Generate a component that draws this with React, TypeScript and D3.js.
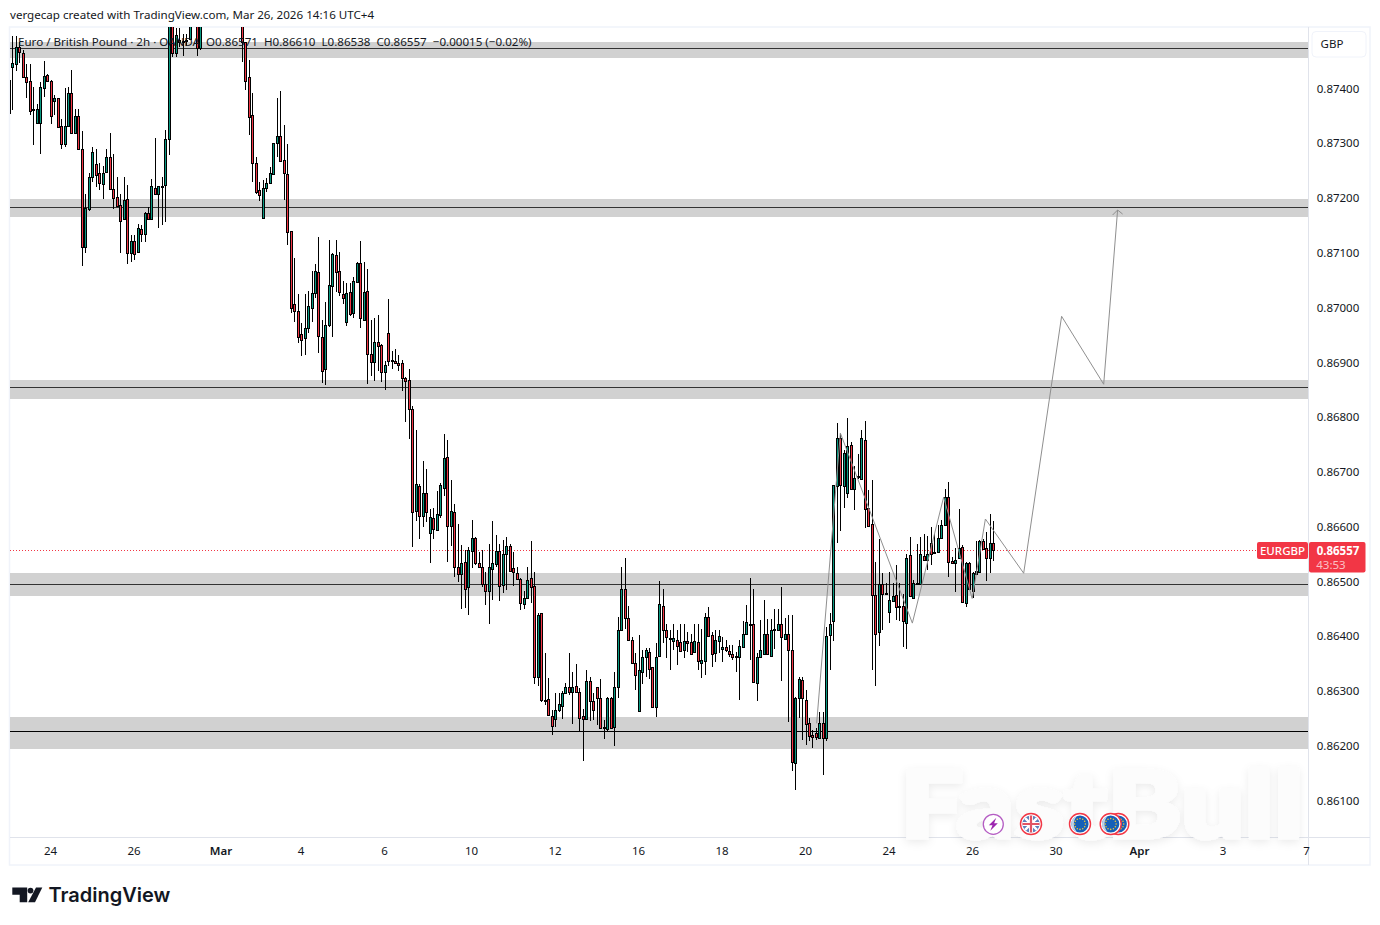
import * as d3 from 'd3';

// prices are in 1e-5 GBP, one entry per 2h bar
const opens = [87355,
  87439,87445,87476,87465,87421,87413,87363,87337,87337,87400,
  87425,87413,87377,87382,87332,87299,87331,87392,87318,87350,
  87290,87111,87179,87239,87262,87245,87226,87248,87275,87217,
  87202,87187,87161,87199,87100,87121,87102,87144,87135,87173,
  87161,87219,87208,87221,87223,87307,87540,87465,87488,87485,
  87486,87490,87535,87570,87473,87560,87600,87625,87610,87595,
  87610,87630,87600,87575,87590,87560,87530,87484,87420,87352,
  87263,87214,87164,87219,87228,87243,87301,87314,87270,87243,
  87139,87007,86994,86951,86945,86963,87000,87027,87064,86947,
  86887,86968,87040,87095,87067,87025,86974,87029,86990,87047,
  87082,86977,87031,86916,86901,86938,86932,86882,86954,86905,
  86903,86899,86899,86872,86867,86815,86629,86675,86620,86662,
  86589,86616,86594,86622,86671,86727,86602,86626,86526,86513,
  86535,86489,86555,86580,86533,86527,86495,86482,86522,86531,
  86555,86493,86550,86565,86524,86516,86504,86459,86469,86506,
  86491,86326,86442,86283,86285,86255,86249,86265,86273,86297,
  86308,86298,86310,86299,86255,86249,86318,86281,86307,86287,
  86234,86230,86287,86235,86307,86412,86487,86434,86394,86352,
  86263,86334,86363,86372,86343,86270,86364,86456,86412,86396,
  86392,86394,86389,86374,86391,86389,86371,86389,86352,86355,
  86436,86403,86369,86392,86376,86380,86373,86367,86364,86363,
  86381,86405,86422,86422,86314,86362,86367,86405,86364,86412,
  86412,86423,86395,86405,86375,86168,86287,86320,86283,86241,
  86219,86223,86215,86241,86215,86403,86428,86674,86761,86674,
  86661,86749,86668,86690,86687,86759,86635,86604,86475,86407,
  86495,86479,86445,86465,86475,86456,86456,86425,86548,86469,
  86495,86495,86546,86540,86570,86554,86553,86579,86603,86655,
  86537,86534,86542,86562,86460,86533,86483,86513,86517,86573,
  86561,86543,86571];

const highs = [87420,
  87495,87495,87485,87470,87445,87445,87403,87372,87412,87450,
  87426,87415,87388,87382,87345,87400,87402,87433,87363,87363,
  87322,87207,87245,87293,87289,87263,87259,87290,87318,87280,
  87239,87208,87239,87223,87132,87132,87152,87150,87175,87184,
  87235,87309,87222,87239,87324,87560,87570,87510,87510,87500,
  87500,87560,87590,87590,87590,87610,87640,87650,87635,87620,
  87645,87650,87615,87605,87600,87580,87560,87485,87451,87392,
  87275,87229,87232,87236,87257,87301,87383,87395,87333,87299,
  87139,87091,87025,86972,87024,87030,87066,87080,87128,86977,
  87010,87123,87100,87123,87101,87048,87044,87045,87056,87084,
  87121,87084,87071,86977,86980,86986,86934,86902,87016,86920,
  86924,86913,86905,86873,86887,86820,86777,86677,86719,86706,
  86633,86635,86665,86679,86770,86759,86686,86641,86604,86566,
  86557,86563,86612,86582,86554,86557,86518,86569,86610,86585,
  86569,86575,86582,86569,86553,86526,86506,86483,86527,86574,
  86518,86442,86443,86370,86323,86265,86297,86296,86300,86314,
  86370,86335,86349,86305,86268,86339,86326,86296,86308,86322,
  86247,86290,86290,86335,86436,86526,86542,86455,86399,86369,
  86403,86375,86378,86378,86344,86387,86501,86486,86423,86411,
  86422,86411,86423,86423,86408,86405,86422,86422,86413,86443,
  86453,86408,86411,86411,86398,86393,86384,86384,86372,86394,
  86428,86457,86507,86486,86369,86429,86467,86431,86431,86450,
  86450,86489,86433,86439,86439,86290,86326,86325,86302,86250,
  86229,86232,86261,86261,86417,86442,86676,86790,86770,86740,
  86798,86754,86710,86732,86776,86793,86667,86686,86535,86577,
  86515,86497,86517,86497,86530,86497,86478,86550,86582,86503,
  86568,86582,86587,86583,86599,86587,86603,86612,86668,86682,
  86545,86561,86632,86567,86536,86535,86518,86574,86576,86578,
  86591,86624,86610];

const lows = [87350,
  87360,87432,87446,87421,87383,87351,87296,87337,87280,87385,
  87413,87335,87351,87327,87289,87293,87330,87316,87316,87287,
  87076,87099,87177,87229,87220,87214,87198,87245,87214,87180,
  87183,87100,87160,87079,87083,87086,87099,87120,87120,87160,
  87160,87207,87145,87150,87156,87278,87458,87458,87475,87459,
  87478,87488,87530,87459,87470,87550,87590,87600,87585,87570,
  87600,87590,87560,87555,87545,87525,87448,87397,87315,87229,
  87207,87194,87164,87211,87226,87243,87275,87265,87196,87114,
  86990,86974,86935,86911,86913,86954,86974,87017,86917,86862,
  86858,86965,86946,87028,87021,87007,86966,86984,86981,87044,
  86963,86976,86860,86875,86865,86885,86864,86849,86893,86887,
  86897,86885,86848,86791,86760,86563,86611,86577,86600,86609,
  86533,86578,86594,86615,86656,86536,86565,86509,86499,86450,
  86451,86439,86524,86530,86524,86489,86457,86422,86466,86527,
  86465,86479,86484,86518,86492,86502,86448,86449,86468,86461,
  86313,86310,86280,86274,86256,86220,86234,86262,86249,86296,
  86293,86240,86296,86226,86173,86247,86245,86247,86238,86231,
  86212,86227,86231,86200,86287,86411,86414,86393,86350,86302,
  86261,86312,86326,86322,86270,86253,86363,86388,86361,86338,
  86375,86347,86372,86360,86372,86366,86369,86338,86324,86329,
  86399,86344,86353,86369,86353,86372,86363,86357,86335,86283,
  86380,86404,86357,86315,86282,86361,86367,86366,86363,86376,
  86411,86319,86394,86244,86154,86119,86250,86210,86201,86209,
  86196,86210,86214,86147,86209,86338,86391,86571,86593,86634,
  86652,86667,86630,86687,86686,86597,86600,86338,86310,86382,
  86411,86475,86424,86463,86430,86428,86381,86376,86472,86468,
  86494,86494,86539,86521,86530,86553,86553,86577,86601,86509,
  86531,86480,86541,86462,86454,86484,86469,86512,86515,86557,
  86501,86516,86538];

const closes = [87415,
  87447,87476,87467,87421,87412,87359,87360,87363,87402,87423,
  87414,87350,87383,87330,87299,87331,87392,87318,87350,87290,
  87111,87181,87238,87283,87242,87228,87246,87275,87216,87200,
  87185,87158,87197,87100,87121,87097,87146,87135,87172,87161,
  87222,87208,87222,87222,87307,87540,87465,87497,87485,87486,
  87488,87535,87570,87473,87560,87600,87625,87610,87595,87610,
  87630,87600,87575,87590,87560,87530,87484,87414,87348,87264,
  87211,87205,87219,87228,87245,87301,87313,87268,87245,87138,
  86999,86994,86946,86941,86963,87003,87027,87066,86948,86885,
  86969,87042,87097,87065,87028,87017,87027,86989,87049,87082,
  86981,87029,86915,86901,86938,86930,86882,86896,86903,86904,
  86899,86895,86871,86866,86815,86626,86677,86619,86662,86626,
  86618,86596,86624,86676,86726,86602,86628,86527,86514,86533,
  86487,86558,86579,86533,86526,86496,86483,86526,86533,86555,
  86492,86550,86565,86520,86518,86504,86460,86469,86502,86489,
  86325,86438,86283,86281,86257,86237,86265,86276,86297,86307,
  86299,86308,86299,86251,86249,86318,86281,86265,86287,86233,
  86233,86287,86232,86307,86412,86487,86434,86394,86352,86330,
  86338,86363,86374,86341,86271,86363,86458,86411,86398,86395,
  86396,86383,86373,86392,86388,86368,86391,86355,86356,86436,
  86401,86368,86394,86401,86380,86374,86367,86363,86363,86383,
  86405,86426,86423,86317,86362,86374,86405,86367,86412,86414,
  86423,86399,86404,86374,86171,86287,86322,86287,86239,86218,
  86217,86217,86242,86215,86401,86423,86676,86761,86676,86734,
  86747,86668,86689,86692,86761,86632,86602,86475,86405,86495,
  86477,86478,86466,86473,86453,86453,86427,86542,86473,86498,
  86497,86550,86540,86550,86551,86554,86579,86603,86654,86536,
  86533,86540,86561,86463,86534,86486,86515,86519,86574,86559,
  86543,86571,86557];

const priceTicks = [87400,87300,87200,87100,87000,86900,86800,86700,86600,86500,86400,86300,86200,86100];
const timeLabels = ['24','26','Mar','4','6','10','12','16','18','20','24','26','30','Apr','3','7'];
const timeBars = [12,36,61,84,108,133,157,181,205,229,253,277,301,325,349,373];

// support / resistance zones: top, bottom, middle line
const zoneTops = [87484,87198,86868,86515,86253];
const zoneBottoms = [87455,87165,86833,86473,86194];
const zoneLines = [87474,87184,86855,86495,86227];
const zoneLineColors = ['#333','#333','#333','#333','#000'];

// hand drawn projection path
const pathBars = [232.2,239,259.7,268.7,276.9,280.7,291.7,302.6,314.7,318.7];
const pathPrices = [86241,86771,86424,86654,86469,86614,86515,86984,86860,87178];

const lastPrice = 86557;
const legendText = 'Euro / British Pound · 2h · OANDA  O0.86571  H0.86610  L0.86538  C0.86557  −0.00015 (−0.02%)';
const headerText = 'vergecap created with TradingView.com, Mar 26, 2026 14:16 UTC+4';

const UP = '#089981';
const DOWN = '#f23645';
const FONT = '"Noto Sans", "Open Sans", sans-serif';

const paneLeft = 10, paneRight = 1308, paneTop = 27, paneBottom = 837, frameRight = 1370, frameBottom = 865;

const x = d3.scaleLinear().domain([0, 373]).range([8.85, 8.85 + 373 * 3.479]);
const y = d3.scaleLinear().domain([86100, 87400]).range([800.6, 88.4]);
const fmt = (v: number) => (v / 1e5).toFixed(5);
const snap = (v: number) => Math.round(v) + 0.5;

const pathLine = d3.line<number>().x((d) => x(pathBars[d])).y((d) => y(pathPrices[d]));
const arrowTip = pathBars.length - 1;

const euStars = d3.range(12).map((d) => (d / 12) * 2 * Math.PI);

const EuIcon = ({ cx, cy }: { cx: number; cy: number }) => (
  <g transform={`translate(${cx},${cy})`}>
    <circle r={10.5} fill="#fff" stroke="#f23645" strokeWidth={1.4} />
    <circle r={8.6} fill="#1660b8" />
    <path d="M-3-8.1A8.6 8.6 0 0 0-3 8.1A12 12 0 0 1-3-8.1" fill="#bcd3ea" />
    {euStars.map((a, i) => (
      <circle key={i} cx={5.4 * Math.cos(a)} cy={5.4 * Math.sin(a)} r={0.8} fill="#f4c430" />
    ))}
  </g>
);

const App = () => {
  const data = opens.map((o, i) => ({ i, o, h: highs[i], l: lows[i], c: closes[i] }));
  return (
    <svg
      width={1380}
      height={925}
      style={{ position: 'absolute', left: 0, top: 0, display: 'block', background: '#fff' }}
      fontFamily={FONT}
    >
      <defs>
        <clipPath id="pane">
          <rect x={paneLeft} y={paneTop} width={paneRight - paneLeft} height={paneBottom - paneTop} />
        </clipPath>
        <clipPath id="ukclip">
          <circle r={8.6} />
        </clipPath>
        <filter id="wm" x="-10%" y="-20%" width="120%" height="140%">
          <feDropShadow dx={0} dy={3} stdDeviation={4} floodColor="#000" floodOpacity={0.08} />
        </filter>
      </defs>

      <text x={10} y={19} fontSize={11.6} fill="#131722">{headerText}</text>

      {/* frame */}
      <rect x={9.5} y={27} width={frameRight - 9.5} height={frameBottom - 27} fill="none" stroke="#f0f3fa" strokeWidth={1.5} />
      <line x1={paneRight + 0.5} x2={paneRight + 0.5} y1={paneTop} y2={frameBottom} stroke="#e0e3eb" />
      <line x1={paneLeft} x2={frameRight} y1={paneBottom + 0.5} y2={paneBottom + 0.5} stroke="#e0e3eb" />

      <g clipPath="url(#pane)">
        {zoneTops.map((t, i) => (
          <g key={i} shapeRendering="crispEdges">
            <rect x={paneLeft} width={paneRight - paneLeft} y={y(t)} height={y(zoneBottoms[i]) - y(t)} fill="#d1d1d1" />
            <line x1={paneLeft} x2={paneRight} y1={snap(y(zoneLines[i]))} y2={snap(y(zoneLines[i]))} stroke={zoneLineColors[i]} />
          </g>
        ))}

        <line x1={paneLeft} x2={1257} y1={snap(y(lastPrice))} y2={snap(y(lastPrice))} stroke={DOWN} strokeDasharray="1 2" />

        <g shapeRendering="crispEdges">
          {data.map((d) => {
            const cx = Math.round(x(d.i));
            const top = Math.round(y(Math.max(d.o, d.c)));
            const bottom = Math.round(y(Math.min(d.o, d.c)));
            return (
              <g key={d.i}>
                <line x1={cx + 0.5} x2={cx + 0.5} y1={y(d.h)} y2={y(d.l)} stroke="#000" />
                <rect
                  x={cx - 0.5}
                  y={top + 0.5}
                  width={2}
                  height={Math.max(bottom - top, 1)}
                  fill={d.c >= d.o ? UP : DOWN}
                  stroke="#000"
                />
              </g>
            );
          })}
        </g>

        <path d={pathLine(d3.range(pathBars.length)) || ''} fill="none" stroke="#8f8f8f" />
        <path
          d={`M${x(pathBars[arrowTip]) - 5},${y(pathPrices[arrowTip]) + 5}L${x(pathBars[arrowTip])},${y(pathPrices[arrowTip])}L${x(pathBars[arrowTip]) + 5},${y(pathPrices[arrowTip]) + 4}`}
          fill="none"
          stroke="#8f8f8f"
        />
      </g>

      <text x={18} y={46} fontSize={11.6} fill="#131722" style={{ whiteSpace: 'pre' }}>{legendText}</text>

      {/* watermark */}
      <text
        x={900}
        y={838}
        fontSize={92}
        fontWeight={800}
        fontFamily='"Lato", "Noto Sans", sans-serif'
        textLength={403}
        lengthAdjust="spacingAndGlyphs"
        fill="#fcfcfc"
        stroke="#fcfcfc"
        strokeWidth={3}
        strokeLinejoin="round"
        filter="url(#wm)"
      >
        FastBull
      </text>

      {/* event icons */}
      <g transform="translate(993.3,824.3)">
        <circle r={10} fill="#fff" stroke="#9c27b0" strokeWidth={1.3} strokeOpacity={0.75} />
        <path d="M3-6.5L-4.5 1H-0.8L-3 6.5L4.5-1H0.8Z" fill="#9c27b0" />
      </g>
      <g transform="translate(1031,824)">
        <circle r={10.5} fill="#fff" stroke="#f23645" strokeWidth={1.4} />
        <g clipPath="url(#ukclip)">
          <rect x={-9} y={-9} width={18} height={18} fill="#5f80bb" />
          <path d="M-9-9L9 9M9-9L-9 9" stroke="#fff" strokeWidth={2.4} />
          <path d="M0-9V9M-9 0H9" stroke="#fff" strokeWidth={4} />
          <path d="M0-9V9M-9 0H9" stroke="#e25563" strokeWidth={2.2} />
        </g>
      </g>
      <EuIcon cx={1080} cy={824} />
      <EuIcon cx={1118.3} cy={824} />
      <EuIcon cx={1110.7} cy={824} />

      {/* price axis */}
      {priceTicks.map((p) => (
        <text key={p} x={1338} y={y(p) + 0.2} dy="0.35em" textAnchor="middle" fontSize={11.5} fill="#131722">{fmt(p)}</text>
      ))}
      <rect x={1312} y={31.5} width={54} height={25.5} rx={4} fill="#fff" stroke="#f0f3fa" />
      <text x={1332} y={44} dy="0.35em" textAnchor="middle" fontSize={11.5} fill="#131722">GBP</text>

      {/* last price tags */}
      <rect x={1257} y={542} width={51} height={17} rx={2} fill={DOWN} />
      <text x={1282.5} y={551} dy="0.35em" textAnchor="middle" fontSize={11.5} fontWeight={500} fill="#fff">EURGBP</text>
      <rect x={1309} y={542} width={56.5} height={30.5} rx={2} fill={DOWN} />
      <text x={1338} y={551} dy="0.35em" textAnchor="middle" fontSize={11.5} fontWeight={700} fill="#fff">{fmt(lastPrice)}</text>
      <text x={1331} y={565} dy="0.35em" textAnchor="middle" fontSize={11.5} fill="#fff" fillOpacity={0.7}>43:53</text>

      {/* time axis */}
      {timeLabels.map((t, i) => (
        <text
          key={i}
          x={x(timeBars[i])}
          y={851}
          dy="0.35em"
          textAnchor="middle"
          fontSize={11.5}
          fontWeight={t === 'Mar' || t === 'Apr' ? 600 : 400}
          fill="#131722"
        >
          {t}
        </text>
      ))}

      {/* TradingView logo */}
      <g fill="#131722">
        <path d="M12.3 887.5H27.2V902.3H19.7V894.8H12.3Z" />
        <circle cx={30.5} cy={890.6} r={2.9} />
        <path d="M36 887.5H42.3L35 902.3H28.2Z" />
      </g>
      <text x={48.5} y={902} fontSize={20} fontWeight={600} fontFamily='"Inter", "Noto Sans", sans-serif' fill="#131722">TradingView</text>
    </svg>
  );
};

export default App;
